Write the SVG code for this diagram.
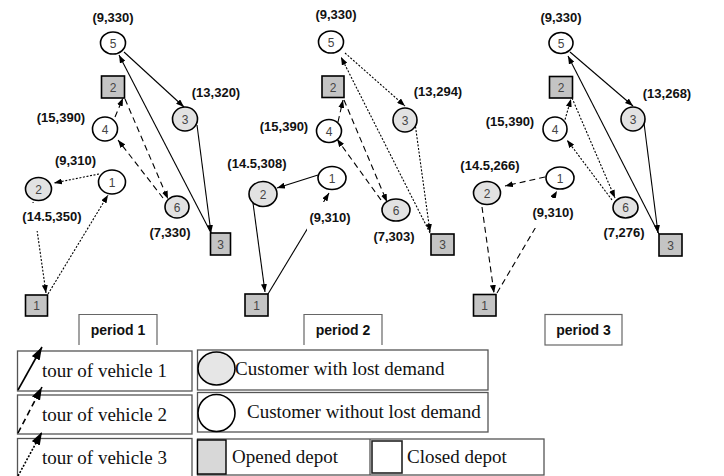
<svg xmlns="http://www.w3.org/2000/svg" width="724" height="476" viewBox="0 0 724 476">
  <style>
    .cust { stroke: #000; stroke-width: 1.6; }
    .lost { fill: #e2e2e2; }
    .nolost { fill: #fff; }
    .depot { fill: #c4c4c4; stroke: #000; stroke-width: 1.6; }
    .num { font-family: "Liberation Sans", Arial, sans-serif; font-size: 12px; fill: #444; text-anchor: middle; }
    .coord { font-family: "Liberation Sans", Arial, sans-serif; font-size: 13px; font-weight: bold; fill: #111; text-anchor: middle; }
    .bg { fill: #fff; }
    .edge { fill: none; stroke: #000; stroke-width: 1.1; marker-end: url(#ah); }
    .v2 { stroke-dasharray: 6 4; }
    .v3 { stroke-dasharray: 2 1.6; }
    .pbox { fill: #fff; stroke: #666; stroke-width: 1.2; }
    .ptext { font-family: "Liberation Sans", Arial, sans-serif; font-size: 14px; font-weight: bold; fill: #111; text-anchor: middle; }
    .lbox { fill: #fff; stroke: #555; stroke-width: 1.3; }
    .ltext { font-family: "Liberation Serif", "Times New Roman", serif; font-size: 19px; fill: #111; }
    .lline { fill: none; stroke: #000; stroke-width: 1.6; marker-end: url(#lah); }
  </style>
  <defs>
    <marker id="ah" viewBox="0 0 8 6" refX="8" refY="3" markerWidth="8" markerHeight="6" markerUnits="userSpaceOnUse" orient="auto">
      <path d="M0,0 L8,3 L0,6 z" fill="#000"/>
    </marker>
    <marker id="lah" viewBox="0 0 13 9" refX="13" refY="4.5" markerWidth="13" markerHeight="9" markerUnits="userSpaceOnUse" orient="auto">
      <path d="M0,0 L13,4.5 L0,9 z" fill="#000"/>
    </marker>
  </defs>

  <!-- routes of the three vehicles in each period -->
  <g id="connectors">
    <!-- period 1 -->
    <path class="edge" d="M211,233 L119,55"/>
    <path class="edge" d="M124,52 L184,107"/>
    <path class="edge" d="M197,125 L211,233"/>
    <path class="edge v2" d="M125,99 L168,199"/>
    <path class="edge v2" d="M163,198 L118,140"/>
    <path class="edge v2" d="M115,117 L123,98"/>
    <path class="edge v3" d="M48,294 L108,195"/>
    <path class="edge v3" d="M99,174 L54,183"/>
    <path class="edge v3" d="M33,202 L46,293"/>
    <!-- period 2 -->
    <path class="edge" d="M268,294 L329,193"/>
    <path class="edge" d="M318,175 L277,188"/>
    <path class="edge" d="M253,203 L265,292"/>
    <path class="edge v2" d="M344,100 L387,202"/>
    <path class="edge v2" d="M381,200 L337,139"/>
    <path class="edge v2" d="M338,122 L343,100"/>
    <path class="edge v3" d="M430,233 L341,57"/>
    <path class="edge v3" d="M345,53 L405,106"/>
    <path class="edge v3" d="M415,123 L430,232"/>
    <!-- period 3 -->
    <path class="edge" d="M659,234 L568,56"/>
    <path class="edge" d="M570,52 L633,106"/>
    <path class="edge" d="M644,123 L658,233"/>
    <path class="edge v2" d="M497,293 L557,191"/>
    <path class="edge v2" d="M545,177 L505,186"/>
    <path class="edge v2" d="M482,207 L494,293"/>
    <path class="edge v3" d="M572,98 L615,198"/>
    <path class="edge v3" d="M612,200 L567,140"/>
    <path class="edge v3" d="M564,123 L571,99"/>
  </g>

  <!-- period 1 -->
  <g id="p1-c5"><ellipse class="cust nolost" cx="113" cy="43" rx="12.5" ry="11"/><text class="num" x="113" y="47.5">5</text><text class="coord" x="113" y="22">(9,330)</text></g>
  <g id="p1-d2"><rect class="depot" x="101.5" y="76" width="23" height="22"/><text class="num" x="113" y="91.5">2</text></g>
  <g id="p1-c4"><ellipse class="cust nolost" cx="105" cy="129" rx="12.5" ry="12"/><text class="num" x="105" y="133.5">4</text><text class="coord" x="61" y="122">(15,390)</text></g>
  <g id="p1-c3"><ellipse class="cust lost" cx="185" cy="119" rx="12.5" ry="12"/><text class="num" x="185" y="123.5">3</text><text class="coord" x="216" y="97">(13,320)</text></g>
  <g id="p1-c1"><ellipse class="cust nolost" cx="112" cy="182" rx="13.5" ry="12"/><text class="num" x="112" y="186.5">1</text><text class="coord" x="75.5" y="165">(9,310)</text></g>
  <g id="p1-c2"><rect class="bg" x="20" y="203" width="64" height="28"/><ellipse class="cust lost" cx="38.5" cy="189" rx="13" ry="11.5"/><text class="num" x="38.5" y="193.5">2</text><text class="coord" x="52" y="221">(14.5,350)</text></g>
  <g id="p1-c6"><ellipse class="cust lost" cx="177" cy="207" rx="12" ry="11"/><text class="num" x="177" y="211.5">6</text><text class="coord" x="170" y="237">(7,330)</text></g>
  <g id="p1-d3"><rect class="depot" x="210.5" y="233" width="20" height="22"/><text class="num" x="220.5" y="248.5">3</text></g>
  <g id="p1-d1"><rect class="depot" x="25.5" y="295" width="22" height="21"/><text class="num" x="36.5" y="310">1</text></g>
  <g id="p1-label"><path class="pbox" d="M79,345 V314.5 H157 V345"/><text class="ptext" x="118" y="335">period 1</text></g>

  <!-- period 2 -->
  <g id="p2-c5"><ellipse class="cust nolost" cx="331" cy="42" rx="12.5" ry="11"/><text class="num" x="331" y="46.5">5</text><text class="coord" x="336" y="19">(9,330)</text></g>
  <g id="p2-d2"><rect class="depot" x="322" y="76" width="22" height="21.5"/><text class="num" x="333" y="91.5">2</text></g>
  <g id="p2-c4"><ellipse class="cust nolost" cx="329" cy="131" rx="12.5" ry="11.5"/><text class="num" x="329" y="135.5">4</text><text class="coord" x="284" y="131">(15,390)</text></g>
  <g id="p2-c3"><ellipse class="cust lost" cx="405" cy="120" rx="12" ry="12"/><text class="num" x="405" y="124.5">3</text><text class="coord" x="438" y="96">(13,294)</text></g>
  <g id="p2-c1"><rect class="bg" x="307" y="202" width="46" height="29"/><ellipse class="cust nolost" cx="332" cy="178" rx="14" ry="11.5"/><text class="num" x="332" y="182.5">1</text><text class="coord" x="330" y="222">(9,310)</text></g>
  <g id="p2-c2"><ellipse class="cust lost" cx="263" cy="194" rx="14" ry="12.5"/><text class="num" x="263" y="198.5">2</text><text class="coord" x="257" y="168">(14.5,308)</text></g>
  <g id="p2-c6"><ellipse class="cust lost" cx="396" cy="210" rx="14" ry="11"/><text class="num" x="396" y="214.5">6</text><text class="coord" x="394" y="241">(7,303)</text></g>
  <g id="p2-d3"><rect class="depot" x="431" y="234" width="23" height="21"/><text class="num" x="442.5" y="249">3</text></g>
  <g id="p2-d1"><rect class="depot" x="245" y="294" width="23" height="22"/><text class="num" x="256.5" y="309.5">1</text></g>
  <g id="p2-label"><path class="pbox" d="M304,345 V314.5 H382 V345"/><text class="ptext" x="343" y="335">period 2</text></g>

  <!-- period 3 -->
  <g id="p3-c5"><ellipse class="cust nolost" cx="561" cy="43" rx="12" ry="10.5"/><text class="num" x="561" y="47.5">5</text><text class="coord" x="561" y="22">(9,330)</text></g>
  <g id="p3-d2"><rect class="depot" x="549.5" y="76.5" width="23" height="21.5"/><text class="num" x="561" y="92">2</text></g>
  <g id="p3-c4"><ellipse class="cust nolost" cx="555" cy="129" rx="12" ry="12"/><text class="num" x="555" y="133.5">4</text><text class="coord" x="510" y="126">(15,390)</text></g>
  <g id="p3-c3"><ellipse class="cust lost" cx="633" cy="119" rx="12" ry="12"/><text class="num" x="633" y="123.5">3</text><text class="coord" x="667" y="98">(13,268)</text></g>
  <g id="p3-c1"><rect class="bg" x="531" y="198" width="46" height="30"/><ellipse class="cust nolost" cx="560" cy="178" rx="14" ry="11"/><text class="num" x="560" y="182.5">1</text><text class="coord" x="553" y="217">(9,310)</text></g>
  <g id="p3-c2"><ellipse class="cust lost" cx="487" cy="193" rx="13.5" ry="11.5"/><text class="num" x="487" y="197.5">2</text><text class="coord" x="490" y="170">(14.5,266)</text></g>
  <g id="p3-c6"><ellipse class="cust lost" cx="625.5" cy="207.5" rx="12.5" ry="10.5"/><text class="num" x="625.5" y="212">6</text><text class="coord" x="624" y="237">(7,276)</text></g>
  <g id="p3-d3"><rect class="depot" x="659" y="234" width="23" height="22"/><text class="num" x="670.5" y="249.5">3</text></g>
  <g id="p3-d1"><rect class="depot" x="473.5" y="294.5" width="22.5" height="21.5"/><text class="num" x="484.5" y="309.5">1</text></g>
  <g id="p3-label"><rect class="pbox" x="545" y="314.5" width="77" height="30.5"/><text class="ptext" x="583.5" y="335">period 3</text></g>

  <!-- legend -->
  <g id="legend-vehicle1"><rect class="lbox" x="17.5" y="351" width="174.5" height="40"/><path class="lline" d="M18,390 L42,347"/><text class="ltext" x="42" y="377">tour of vehicle 1</text></g>
  <g id="legend-vehicle2"><rect class="lbox" x="17.5" y="395" width="174.5" height="39"/><path class="lline v2" d="M18,433 L42,387"/><text class="ltext" x="42" y="421">tour of vehicle 2</text></g>
  <g id="legend-vehicle3"><rect class="lbox" x="17.5" y="438.5" width="174.5" height="40"/><path class="lline v3" d="M18,476 L42,432"/><text class="ltext" x="42" y="464">tour of vehicle 3</text></g>
  <g id="legend-lost"><rect class="lbox" x="197.5" y="350" width="290.5" height="40"/><ellipse cx="216.5" cy="368.5" rx="18.5" ry="16.5" fill="#e6e6e6" stroke="#000" stroke-width="1.6"/><text class="ltext" x="235" y="375">Customer with lost demand</text></g>
  <g id="legend-nolost"><rect class="lbox" x="197.5" y="392.5" width="290.5" height="39.5"/><ellipse cx="216.5" cy="413" rx="18.5" ry="18.5" fill="#fff" stroke="#000" stroke-width="1.6"/><text class="ltext" x="247" y="418">Customer without lost demand</text></g>
  <g id="legend-depots"><rect class="lbox" x="197.5" y="439" width="346.5" height="36"/><line x1="370" y1="439" x2="370" y2="475" stroke="#555" stroke-width="1.3"/><rect x="197.5" y="440" width="28.5" height="34" fill="#d8d8d8" stroke="#000" stroke-width="1.4"/><text class="ltext" x="232" y="463">Opened depot</text><rect x="372" y="441" width="30" height="32" fill="#fff" stroke="#222" stroke-width="1.6"/><text class="ltext" x="407" y="462.5">Closed depot</text></g>
</svg>
